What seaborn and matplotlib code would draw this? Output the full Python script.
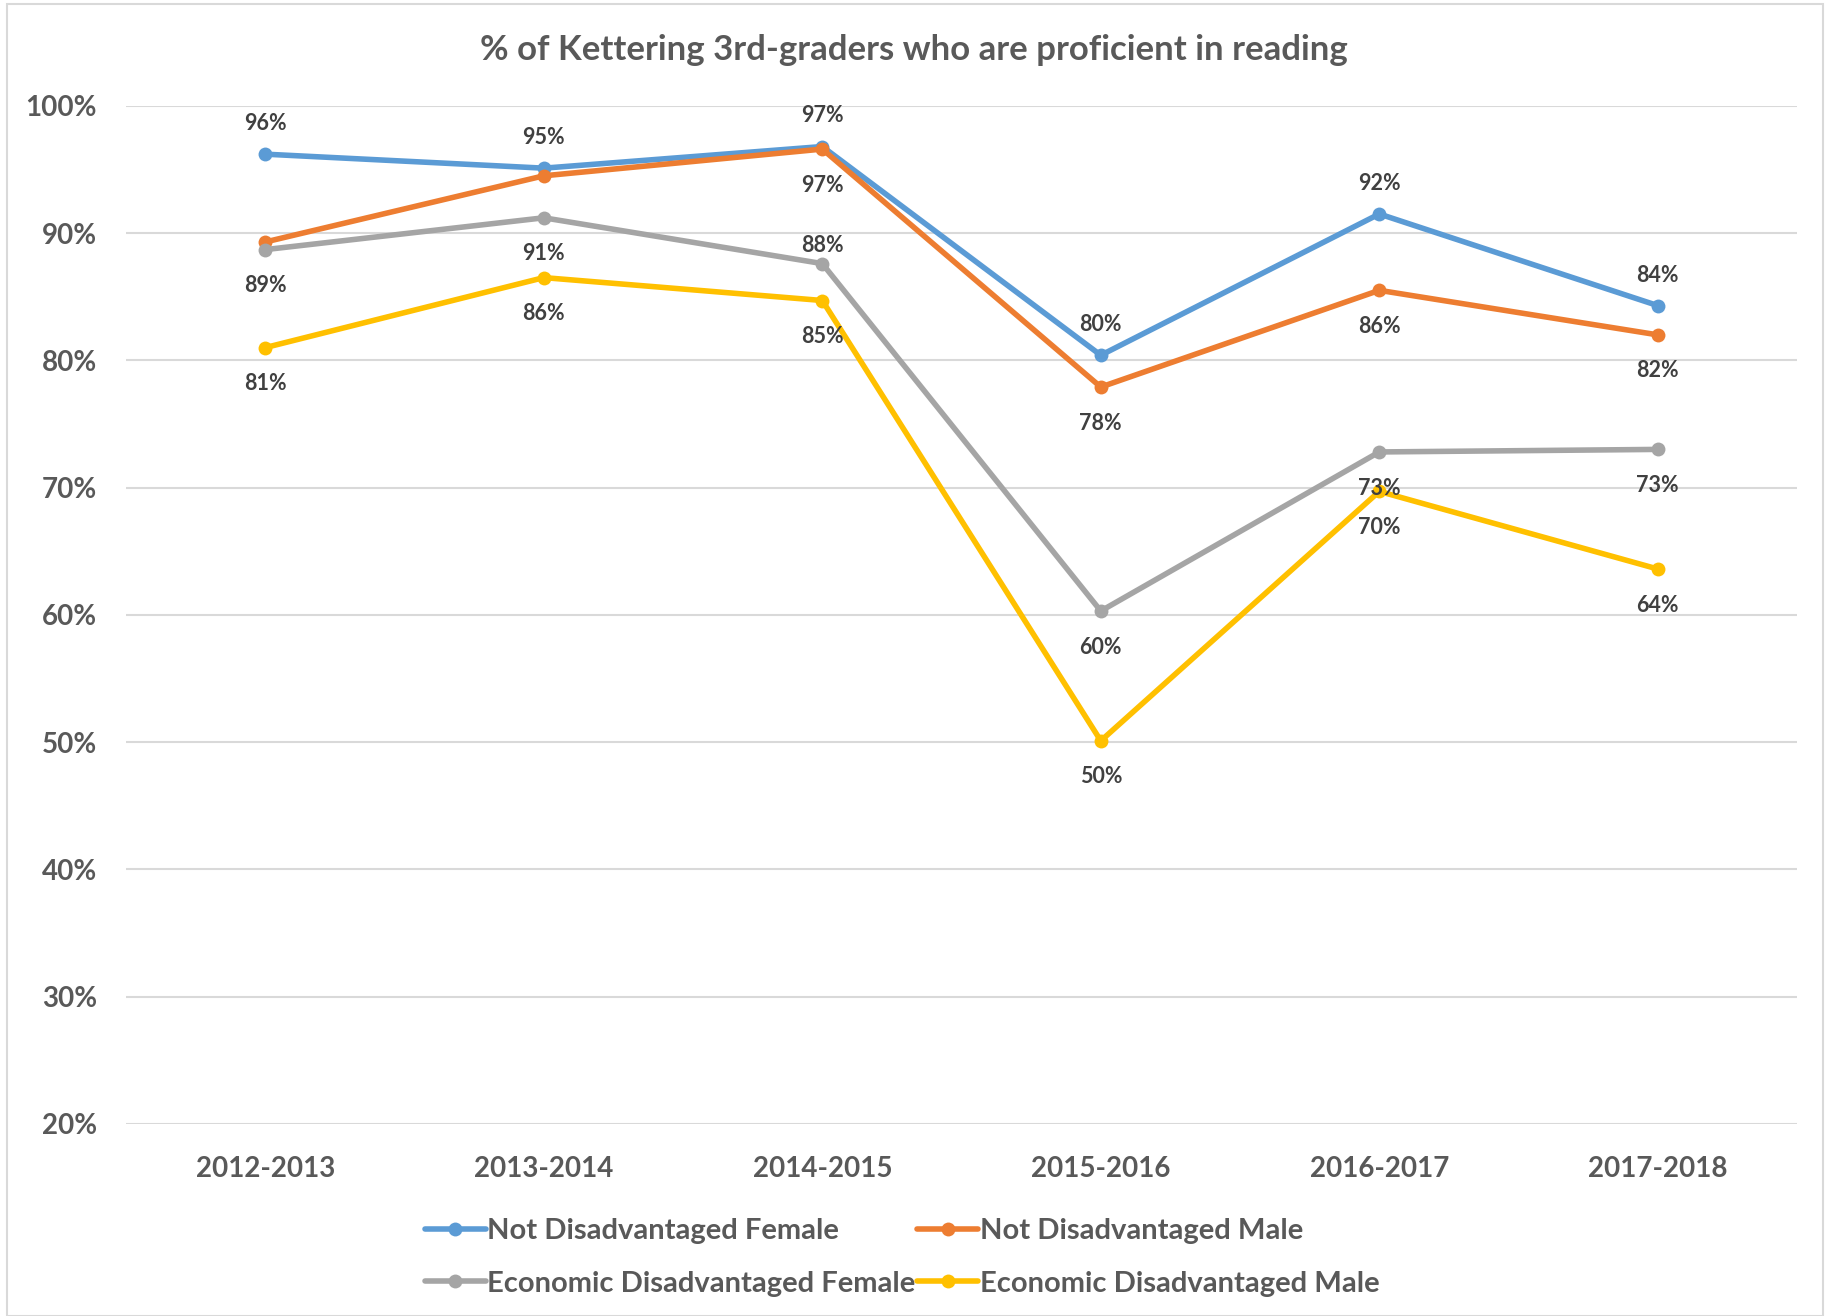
import pandas as pd
import matplotlib.pyplot as plt
import seaborn as sns
from matplotlib.lines import Line2D
from matplotlib.patches import Rectangle

# school years on the x axis
years = ['2012-2013', '2013-2014', '2014-2015', '2015-2016', '2016-2017', '2017-2018']

# share of 3rd-graders proficient in reading
not_dis_female = [0.962, 0.951, 0.968, 0.804, 0.915, 0.843]
not_dis_male = [0.893, 0.945, 0.966, 0.779, 0.855, 0.820]
econ_dis_female = [0.887, 0.912, 0.876, 0.603, 0.728, 0.730]
econ_dis_male = [0.810, 0.865, 0.847, 0.501, 0.697, 0.636]

series_names = ['Not Disadvantaged Female', 'Not Disadvantaged Male',
                'Economic Disadvantaged Female', 'Economic Disadvantaged Male']
series_values = [not_dis_female, not_dis_male, econ_dis_female, econ_dis_male]
colors = ['#5B9BD5', '#ED7D31', '#A5A5A5', '#FFC000']

# vertical offset of each data label in points (None = no label)
A, B = 22, -26
label_offset = [
    [A, A, A, A, A, A],
    [None, None, B, B, B, B],
    [B, B, 13, B, B, B],
    [B, B, B, B, B, B],
]

rows = []
for name, vals in zip(series_names, series_values):
    for yr, v in zip(years, vals):
        rows.append({'year': yr, 'value': v, 'group': name})
df = pd.DataFrame(rows)

sns.set_style('white')
plt.rcParams['font.family'] = ['Lato', 'DejaVu Sans']
plt.rcParams['font.weight'] = 'bold'

text_gray = '#595959'
label_gray = '#404040'

fig = plt.figure(figsize=(18.27, 13.16), dpi=100)
ax = fig.add_axes([0.069, 0.146, 0.9146, 0.7736])

sns.lineplot(data=df, x='year', y='value', hue='group', hue_order=series_names,
             palette=colors, marker='o', markersize=10, markeredgewidth=0,
             linewidth=4, sort=False, legend=False, ax=ax, clip_on=False)

# data labels
for i, vals in enumerate(series_values):
    for j, v in enumerate(vals):
        off = label_offset[i][j]
        if off is None:
            continue
        ax.annotate(f'{v * 100:.0f}%', (j, v), xytext=(0, off),
                    textcoords='offset points', ha='center', va='center',
                    fontsize=15.5, fontweight='bold', color=label_gray)

ax.set_xlim(-0.5, len(years) - 0.5)
ax.set_ylim(0.2, 1.0)
ax.set_yticks([0.2, 0.3, 0.4, 0.5, 0.6, 0.7, 0.8, 0.9, 1.0])
ax.yaxis.set_major_formatter(plt.FuncFormatter(lambda y, _: f'{y * 100:.0f}%'))
ax.grid(axis='y', color='#D9D9D9', linewidth=1.5)
ax.set_axisbelow(True)
ax.tick_params(axis='y', length=0, pad=21, labelsize=20, labelcolor=text_gray)
ax.tick_params(axis='x', length=0, pad=23, labelsize=20, labelcolor=text_gray)
for lbl in ax.get_xticklabels() + ax.get_yticklabels():
    lbl.set_fontweight('bold')
ax.set_xlabel('')
ax.set_ylabel('')
sns.despine(ax=ax, left=True, bottom=True)

fig.suptitle('% of Kettering 3rd-graders who are proficient in reading',
             y=0.962, va='center', fontsize=25, fontweight='bold', color=text_gray)

# legend fills column by column, so order gives rows: NDF/NDM, EDF/EDM
order = [0, 2, 1, 3]
handles = [Line2D([], [], color=colors[k], linewidth=4, marker='o', markersize=10,
                  markeredgewidth=0) for k in order]
fig.legend(handles, [series_names[k] for k in order], loc='upper left',
           bbox_to_anchor=(0.226, 0.083), ncol=2, frameon=False, fontsize=21,
           labelcolor=text_gray, handlelength=2.1, handletextpad=0.05,
           columnspacing=0.05, labelspacing=0.9, borderaxespad=0)

# thin chart border like the spreadsheet chart frame
fig.patches.append(Rectangle((0.004, 0.0), 0.994, 0.997, transform=fig.transFigure,
                             fill=False, edgecolor='#D9D9D9', linewidth=1.5))

fig.savefig('out.png', dpi=100)
